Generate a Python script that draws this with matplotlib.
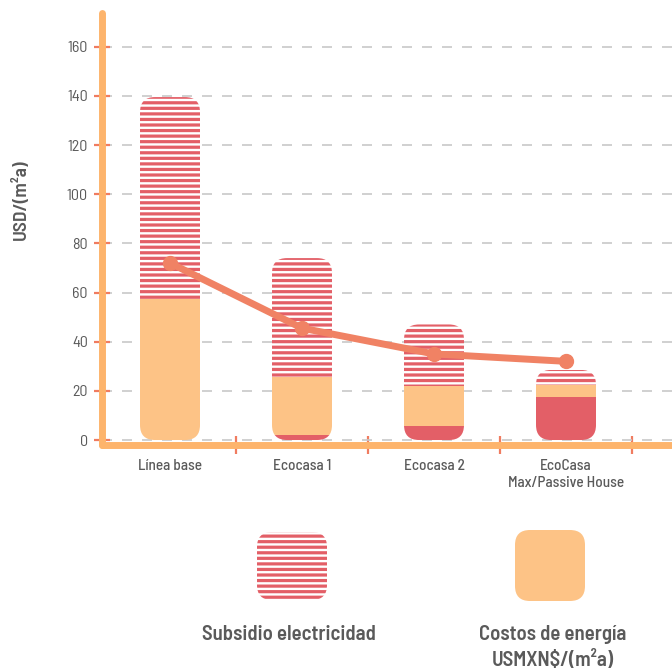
import numpy as np
import matplotlib
matplotlib.use("Agg")
import matplotlib.pyplot as plt
from matplotlib.patches import FancyBboxPatch

# Datos (USD/(m2 a))
categorias = ["Línea base", "Ecocasa 1", "Ecocasa 2", "EcoCasa\nMax/Passive House"]
base_roja = [0.0, 2.0, 5.5, 17.5]        # segmento rojo sólido
costos = [57.5, 23.5, 16.5, 5.0]         # costos de energía
subsidio = [82.0, 48.5, 25.0, 6.0]       # subsidio electricidad (rayado)
linea = [72.0, 45.5, 35.0, 32.0]         # línea de costo
y_ticks = [0, 20, 40, 60, 80, 100, 120, 140, 160]

# Colores
c_rojo = "#E35F67"
c_naranja = "#FDC386"
c_eje = "#FDB46C"
c_linea = "#F08264"
c_tick = "#F07C60"
c_texto = "#5A5A5A"

plt.rcParams["font.family"] = ["Barlow Semi Condensed", "DejaVu Sans"]
plt.rcParams["hatch.linewidth"] = 2.3

W, H = 672, 669
fig = plt.figure(figsize=(W / 100, H / 100), dpi=100)

# ejes principales (en pixeles)
ax_l, ax_r, ax_t, ax_b = 101.5, 672, 13, 445
ax = fig.add_axes([ax_l / W, 1 - ax_b / H, (ax_r - ax_l) / W, (ax_b - ax_t) / H])
ax.set_xlim(-0.519, 3.803)
ax.set_ylim(-2.03, 173.7)

# relación de aspecto para esquinas redondeadas
x_px = (ax_r - ax_l) / (3.803 + 0.519)
y_px = (ax_b - ax_t) / (173.7 + 2.03)
aspecto = x_px / y_px

x = np.arange(len(categorias))
ancho = 60 / x_px
radio = 15 / x_px

for i in x:
    total = base_roja[i] + costos[i] + subsidio[i]
    forma = FancyBboxPatch((x[i] - ancho / 2, 0), ancho, total,
                           boxstyle=f"round,pad=0,rounding_size={radio}",
                           mutation_aspect=aspecto, facecolor="none",
                           edgecolor="none", zorder=4)
    ax.add_patch(forma)
    segs = [
        ax.bar(x[i], base_roja[i], width=ancho, bottom=0, color=c_rojo, lw=0, zorder=4),
        ax.bar(x[i], costos[i], width=ancho, bottom=base_roja[i], color=c_naranja, lw=0, zorder=4),
        ax.bar(x[i], subsidio[i], width=ancho, bottom=base_roja[i] + costos[i],
               facecolor="white", edgecolor=c_rojo, hatch="---", lw=0, zorder=4),
    ]
    for s in segs:
        for r in s:
            r.set_clip_path(forma)

ax.plot(x, linea, color=c_linea, lw=5, marker="o", markersize=10,
        solid_capstyle="round", zorder=5)

# ejes
for lado in ["top", "right"]:
    ax.spines[lado].set_visible(False)
for lado in ["left", "bottom"]:
    ax.spines[lado].set_color(c_eje)
    ax.spines[lado].set_linewidth(5)
    ax.spines[lado].set_capstyle("round")

ax.set_yticks(y_ticks)
ax.tick_params(axis="y", direction="inout", length=11.5, width=1.6, color=c_tick,
               labelsize=11.5, labelcolor=c_texto, pad=4)
ax.set_xticks(x)
ax.set_xticklabels(categorias, linespacing=1.25)
ax.tick_params(axis="x", length=0, labelsize=11, labelcolor=c_texto, pad=10)
for t in ax.get_xticklabels():
    t.set_fontweight("medium")
ax.set_xticks([0.5, 1.5, 2.5, 3.5], minor=True)
ax.tick_params(axis="x", which="minor", direction="inout", length=13, width=1.6, color=c_tick)

ax.yaxis.grid(True, color="#C8C8C8", lw=1.2, linestyle=(0, (6, 6)))
ax.set_axisbelow(True)

fig.text(21 / W, 1 - 200 / H, "USD/(m²a)", rotation=90, ha="center", va="center",
         fontsize=14, fontweight="semibold", color=c_texto)

# leyenda manual
lg = fig.add_axes([0, 0, 1, 1], zorder=-1)
lg.set_xlim(0, W)
lg.set_ylim(H, 0)
lg.axis("off")
lg.add_patch(FancyBboxPatch((257, 532), 70, 68, boxstyle="round,pad=0,rounding_size=15",
                            facecolor="white", edgecolor=c_rojo, hatch="---", lw=0))
lg.add_patch(FancyBboxPatch((515, 530), 70, 71, boxstyle="round,pad=0,rounding_size=15",
                            facecolor=c_naranja, lw=0))
lg.text(289, 634, "Subsidio electricidad", ha="center", va="center", fontsize=15,
        fontweight="semibold", color=c_texto)
lg.text(553, 635, "Costos de energía", ha="center", va="center",
        fontsize=15, fontweight="semibold", color=c_texto)
lg.text(553, 660, "USMXN$/(m²a)", ha="center", va="center",
        fontsize=15, fontweight="semibold", color=c_texto)

fig.savefig("out.png", dpi=100)
